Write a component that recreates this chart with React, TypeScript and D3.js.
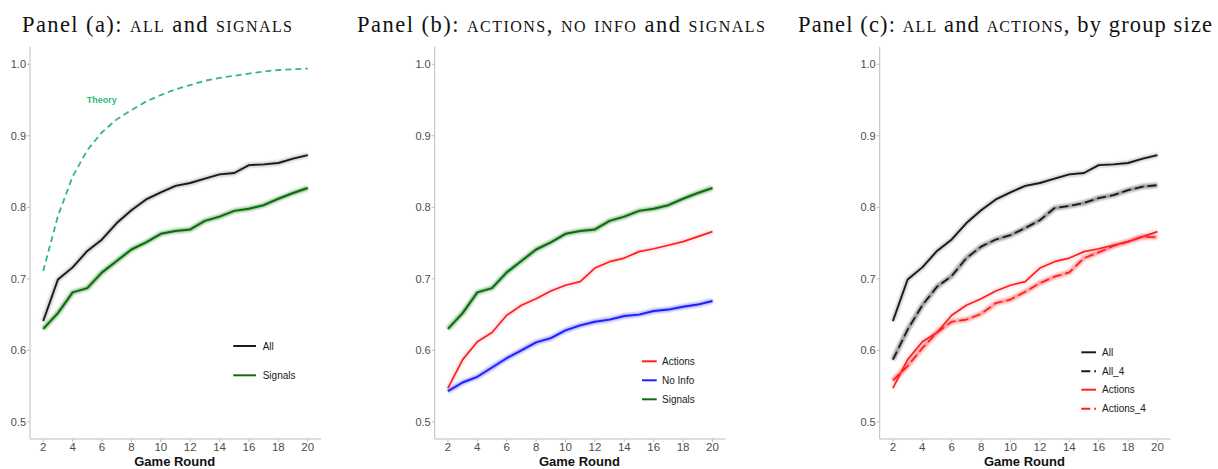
import React from "react";
import * as d3 from "d3";

// Game rounds on the x axis
const rounds = [2, 3, 4, 5, 6, 7, 8, 9, 10, 11, 12, 13, 14, 15, 16, 17, 18, 19, 20];

// Share of correct choices per round, by treatment
const allValues = [0.641, 0.699, 0.716, 0.739, 0.755, 0.778, 0.796, 0.811, 0.821, 0.830, 0.834, 0.840, 0.846, 0.848, 0.859, 0.860, 0.862, 0.868, 0.873];
const signalsValues = [0.630, 0.652, 0.681, 0.687, 0.709, 0.725, 0.741, 0.751, 0.763, 0.767, 0.769, 0.781, 0.787, 0.795, 0.798, 0.803, 0.812, 0.820, 0.827];
const actionsValues = [0.547, 0.587, 0.612, 0.625, 0.649, 0.663, 0.672, 0.683, 0.691, 0.696, 0.715, 0.724, 0.729, 0.738, 0.742, 0.747, 0.752, 0.759, 0.766];
const noInfoValues = [0.543, 0.555, 0.563, 0.576, 0.589, 0.600, 0.611, 0.617, 0.628, 0.635, 0.640, 0.643, 0.648, 0.650, 0.655, 0.657, 0.661, 0.664, 0.669];
const all4Values = [0.587, 0.629, 0.663, 0.689, 0.704, 0.729, 0.745, 0.755, 0.761, 0.771, 0.782, 0.799, 0.802, 0.806, 0.813, 0.817, 0.824, 0.829, 0.831];
const actions4Values = [0.558, 0.578, 0.603, 0.625, 0.640, 0.643, 0.651, 0.666, 0.671, 0.682, 0.694, 0.703, 0.709, 0.729, 0.737, 0.746, 0.752, 0.759, 0.758];
const theoryValues = [0.711, 0.788, 0.843, 0.880, 0.905, 0.923, 0.936, 0.948, 0.957, 0.965, 0.971, 0.977, 0.981, 0.984, 0.987, 0.990, 0.992, 0.993, 0.994];

const xTicks = [2, 4, 6, 8, 10, 12, 14, 16, 18, 20];
const yTicks = [0.5, 0.6, 0.7, 0.8, 0.9, 1.0];

const BLACK = "#1a1a1a";
const GREEN = "#0c6d0c";
const RED = "#ff1f1f";
const BLUE = "#1f1fff";
const THEORY = "#33b877";

type Series = {
  name: string;
  values: number[];
  color: string;
  dash?: string;
  halo?: number;
  width?: number;
};

type TitlePart = { text: string; caps?: boolean };

type PanelSpec = {
  axisX: number;
  titleX: number;
  titleLen: number;
  title: TitlePart[];
  series: Series[];
  legend: { keyX: number; keyLen: number; textX: number; rows: number[]; items: Series[] };
  theory?: boolean;
};

const seriesAll: Series = { name: "All", values: allValues, color: BLACK, halo: 0.25, width: 1.9 };
const seriesSignals: Series = { name: "Signals", values: signalsValues, color: GREEN, halo: 0.45, width: 2 };
const seriesActions: Series = { name: "Actions", values: actionsValues, color: RED, halo: 0.15, width: 1.7 };
const seriesNoInfo: Series = { name: "No Info", values: noInfoValues, color: BLUE, halo: 0.4, width: 1.9 };
const seriesAll4: Series = { name: "All_4", values: all4Values, color: BLACK, dash: "9,4", halo: 0.45, width: 1.8 };
const seriesActions4: Series = { name: "Actions_4", values: actions4Values, color: RED, dash: "9,4", halo: 0.45, width: 1.7 };

const panels: PanelSpec[] = [
  {
    axisX: 30,
    titleX: 22,
    titleLen: 270,
    title: [
      { text: "Panel (a): " },
      { text: "all", caps: true },
      { text: " and " },
      { text: "signals", caps: true },
    ],
    series: [seriesAll, seriesSignals],
    legend: { keyX: 233.3, keyLen: 22.7, textX: 262.7, rows: [346, 375.3], items: [seriesAll, seriesSignals] },
    theory: true,
  },
  {
    axisX: 434.7,
    titleX: 357,
    titleLen: 408,
    title: [
      { text: "Panel (b): " },
      { text: "actions", caps: true },
      { text: ", " },
      { text: "no info", caps: true },
      { text: " and " },
      { text: "signals", caps: true },
    ],
    series: [seriesSignals, seriesActions, seriesNoInfo],
    legend: {
      keyX: 642,
      keyLen: 14.7,
      textX: 662,
      rows: [361.3, 380.3, 399.3],
      items: [seriesActions, seriesNoInfo, seriesSignals],
    },
  },
  {
    axisX: 879.7,
    titleX: 798,
    titleLen: 414,
    title: [
      { text: "Panel (c): " },
      { text: "all", caps: true },
      { text: " and " },
      { text: "actions", caps: true },
      { text: ", by group size" },
    ],
    series: [seriesAll, seriesAll4, seriesActions, seriesActions4],
    legend: {
      keyX: 1081.3,
      keyLen: 14.7,
      textX: 1102,
      rows: [352.3, 371.3, 389.7, 408.7],
      items: [seriesAll, seriesAll4, seriesActions, seriesActions4],
    },
  },
];

const PLOT_TOP = 46.7;
const PLOT_BOTTOM = 439;
const PLOT_WIDTH = 291;

const y = d3.scaleLinear().domain([0.476, 1.0246]).range([PLOT_BOTTOM, PLOT_TOP]);

function Panel({ spec }: { spec: PanelSpec }) {
  const x = d3.scaleLinear().domain([1.1, 20.9]).range([spec.axisX, spec.axisX + PLOT_WIDTH]);
  const line = d3
    .line<number>()
    .x((_, i) => x(rounds[i]))
    .y((v) => y(v));

  return (
    <g>
      <text
        x={spec.titleX}
        y={32}
        fontFamily="'Liberation Serif', serif"
        fontSize={22.5}
        fill="#111"
        textLength={spec.titleLen}
        lengthAdjust="spacing"
      >
        {spec.title.map((p, i) => (
          <tspan key={i} style={p.caps ? { fontVariant: "small-caps" } : undefined}>
            {p.text}
          </tspan>
        ))}
      </text>

      {/* axes */}
      <line x1={spec.axisX} x2={spec.axisX} y1={PLOT_TOP} y2={PLOT_BOTTOM} stroke="#bdbdbd" strokeWidth={1} />
      <line x1={spec.axisX} x2={spec.axisX + PLOT_WIDTH} y1={PLOT_BOTTOM} y2={PLOT_BOTTOM} stroke="#bdbdbd" strokeWidth={1} />
      {yTicks.map((t) => (
        <g key={t}>
          <line x1={spec.axisX - 3} x2={spec.axisX} y1={y(t)} y2={y(t)} stroke="#bdbdbd" />
          <text
            x={spec.axisX - 4}
            y={y(t)}
            dy="0.35em"
            textAnchor="end"
            fontFamily="'Liberation Sans', Arial, sans-serif"
            fontSize={11}
            fill="#4d4d4d"
          >
            {t.toFixed(1)}
          </text>
        </g>
      ))}
      {xTicks.map((t) => (
        <g key={t}>
          <line x1={x(t)} x2={x(t)} y1={PLOT_BOTTOM} y2={PLOT_BOTTOM + 3} stroke="#bdbdbd" />
          <text
            x={x(t)}
            y={451}
            textAnchor="middle"
            fontFamily="'Liberation Sans', Arial, sans-serif"
            fontSize={11.5}
            fill="#4d4d4d"
          >
            {t}
          </text>
        </g>
      ))}
      <text
        x={spec.axisX + PLOT_WIDTH / 2 - 0.8}
        y={466}
        textAnchor="middle"
        fontFamily="'Liberation Sans', Arial, sans-serif"
        fontWeight="bold"
        fontSize={13}
        fill="#111"
      >
        Game Round
      </text>

      {/* theory benchmark */}
      {spec.theory && (
        <g>
          <path d={line(theoryValues) ?? ""} fill="none" stroke={THEORY} strokeWidth={1.8} strokeDasharray="6,4" />
          <text
            x={86.7}
            y={100}
            dy="0.35em"
            fontFamily="'Liberation Sans', Arial, sans-serif"
            fontWeight="bold"
            fontSize={9}
            fill={THEORY}
          >
            Theory
          </text>
        </g>
      )}

      {/* series: a soft band under each line, then the line */}
      {spec.series.map((s) => (
        <g key={s.name}>
          {s.halo ? (
            <path
              d={line(s.values) ?? ""}
              fill="none"
              stroke={s.color}
              strokeOpacity={s.halo}
              strokeWidth={4.5}
              filter="url(#soft)"
            />
          ) : null}
          <path
            d={line(s.values) ?? ""}
            fill="none"
            stroke={s.color}
            strokeWidth={s.width ?? 1.8}
            strokeDasharray={s.dash}
            strokeLinejoin="round"
          />
        </g>
      ))}

      {/* legend */}
      {spec.legend.items.map((s, i) => (
        <g key={s.name}>
          <line
            x1={spec.legend.keyX}
            x2={spec.legend.keyX + spec.legend.keyLen}
            y1={spec.legend.rows[i]}
            y2={spec.legend.rows[i]}
            stroke={s.color}
            strokeWidth={2}
            strokeDasharray={s.dash}
          />
          <text
            x={spec.legend.textX}
            y={spec.legend.rows[i]}
            dy="0.35em"
            fontFamily="'Liberation Sans', Arial, sans-serif"
            fontSize={10}
            fill="#1a1a1a"
          >
            {s.name}
          </text>
        </g>
      ))}
    </g>
  );
}

export default function App() {
  return (
    <svg
      width={1218}
      height={469}
      style={{ position: "absolute", left: 0, top: 0, background: "#fff" }}
    >
      <defs>
        <filter id="soft" x="-5%" y="-20%" width="110%" height="140%">
          <feGaussianBlur stdDeviation={1} />
        </filter>
      </defs>
      <rect width={1218} height={469} fill="#fff" />
      {panels.map((p, i) => (
        <Panel key={i} spec={p} />
      ))}
    </svg>
  );
}
